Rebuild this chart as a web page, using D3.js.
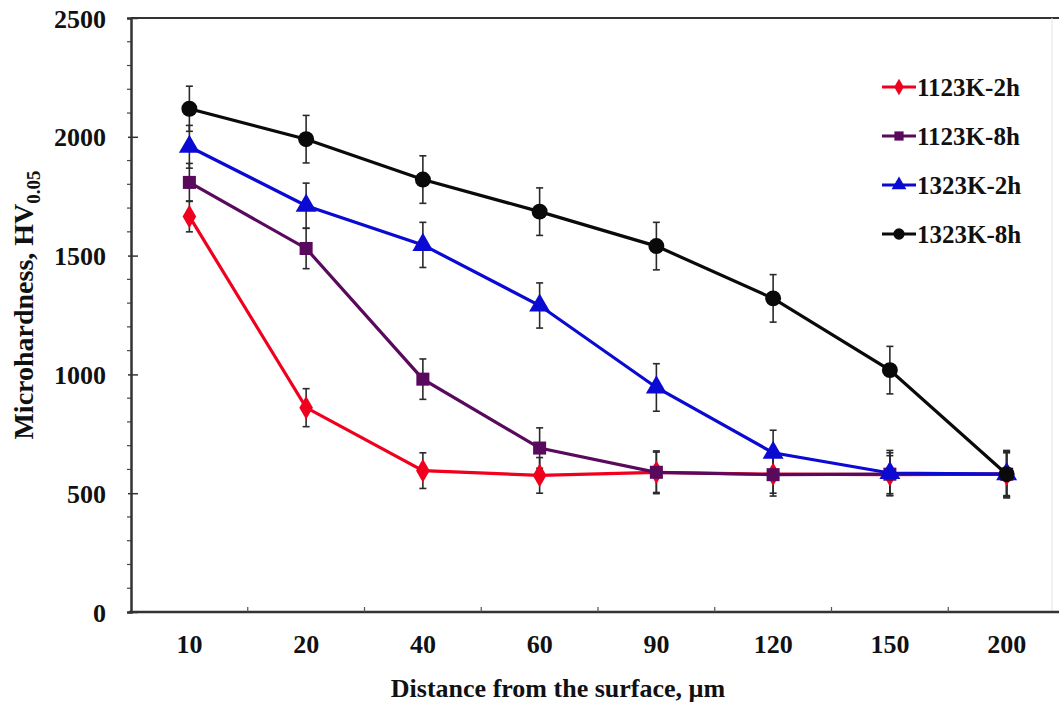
<!DOCTYPE html>
<html>
<head>
<meta charset="utf-8">
<script src="https://cdn.jsdelivr.net/npm/d3@7"></script>
<style>
  html, body { margin: 0; padding: 0; background: #fff; }
  svg text { font-family: "Liberation Serif", "Times New Roman", serif; font-weight: bold; fill: #111; }
</style>
</head>
<body>
<svg id="chart" width="1059" height="704"></svg>
<script>
// Sampling depths (µm) and microhardness readings for each treatment
const depths = ["10", "20", "40", "60", "90", "120", "150", "200"];
const yTicks = [0, 500, 1000, 1500, 2000, 2500];

const hv1123K2h = [1665, 860, 595, 575, 588, 580, 578, 580];
const hv1123K8h = [1808, 1530, 980, 690, 588, 578, 580, 580];
const hv1323K2h = [1958, 1710, 1545, 1290, 945, 670, 585, 580];
const hv1323K8h = [2118, 1990, 1820, 1685, 1540, 1320, 1018, 580];

const err1123K2h = [65, 80, 75, 75, 85, 80, 80, 90];
const err1123K8h = [80, 85, 85, 85, 90, 90, 90, 95];
const err1323K2h = [90, 95, 95, 95, 100, 95, 95, 95];
const err1323K8h = [95, 100, 100, 100, 100, 100, 100, 100];

const seriesNames = ["1123K-2h", "1123K-8h", "1323K-2h", "1323K-8h"];
const seriesColors = ["#f0001e", "#5a0a5c", "#0a0ad2", "#0a0a0a"];
const seriesShapes = [d3.symbolDiamond, d3.symbolSquare, d3.symbolTriangle, d3.symbolCircle];
const seriesSizes = [160, 170, 190, 200];

const series = seriesNames.map((name, i) => ({
  name,
  color: seriesColors[i],
  shape: seriesShapes[i],
  size: seriesSizes[i],
  values: [hv1123K2h, hv1123K8h, hv1323K2h, hv1323K8h][i],
  errors: [err1123K2h, err1123K8h, err1323K2h, err1323K8h][i]
}));

const svg = d3.select("#chart");
const plotL = 131, plotR = 1065, plotT = 18, plotB = 612;

const x = d3.scaleBand().domain(depths).range([plotL, plotR]).padding(0);
const y = d3.scaleLinear().domain([0, 2500]).range([plotB, plotT]);

// Frame: top border and faint right edge
svg.append("line").attr("x1", plotL).attr("x2", 1059).attr("y1", plotT).attr("y2", plotT)
  .attr("stroke", "#333").attr("stroke-width", 2);
svg.append("line").attr("x1", 1052).attr("x2", 1052).attr("y1", plotT).attr("y2", plotB)
  .attr("stroke", "#e4e4e4").attr("stroke-width", 1);

// Y axis with minor ticks
const yMinor = d3.range(0, 2501, 100).filter(v => v % 500 !== 0);
svg.append("g").selectAll("line").data(yMinor).join("line")
  .attr("x1", plotL - 4).attr("x2", plotL).attr("y1", d => y(d)).attr("y2", d => y(d))
  .attr("stroke", "#444").attr("stroke-width", 1.2);

const yAxis = svg.append("g").attr("transform", `translate(${plotL},0)`)
  .call(d3.axisLeft(y).tickValues(yTicks).tickFormat(d3.format("d")).tickSize(4).tickPadding(21));
yAxis.select(".domain").attr("stroke", "#333").attr("stroke-width", 2.5);
yAxis.selectAll(".tick line").attr("x1", 7).attr("x2", -3).attr("stroke", "#333").attr("stroke-width", 1.5);
yAxis.selectAll(".tick text").attr("font-size", 26).attr("dy", "0.35em")
  .style("font-family", "'Liberation Serif', serif").style("font-weight", "bold").attr("fill", "#111");

// X axis: category labels, ticks at band boundaries pointing inward
const xAxis = svg.append("g").attr("transform", `translate(0,${plotB})`)
  .call(d3.axisBottom(x).tickSize(0).tickPadding(23));
xAxis.select(".domain").remove();
xAxis.selectAll(".tick text").attr("font-size", 26)
  .style("font-family", "'Liberation Serif', serif").style("font-weight", "bold").attr("fill", "#111");
svg.append("line").attr("x1", plotL - 2).attr("x2", 1059).attr("y1", plotB).attr("y2", plotB)
  .attr("stroke", "#333").attr("stroke-width", 2.5);
svg.append("g").selectAll("line").data(depths.slice(1)).join("line")
  .attr("x1", d => x(d)).attr("x2", d => x(d)).attr("y1", plotB).attr("y2", plotB - 5)
  .attr("stroke", "#555").attr("stroke-width", 1.2);

// Axis titles
svg.append("text").attr("x", 558).attr("y", 697).attr("text-anchor", "middle")
  .attr("font-size", 26).text("Distance from the surface, µm");

const yTitle = svg.append("text").attr("transform", "translate(33,305) rotate(-90)")
  .attr("text-anchor", "middle").attr("font-size", 28);
yTitle.append("tspan").text("Microhardness, HV");
yTitle.append("tspan").attr("font-size", 19).attr("dy", 7).text("0.05");

// Series: error bars, lines, markers
const line = d3.line().x((d, i) => x.bandwidth() / 2 + x(depths[i])).y(d => y(d));
const cx = i => x(depths[i]) + x.bandwidth() / 2;

series.forEach(s => {
  const eb = svg.append("g");
  s.values.forEach((v, i) => {
    const e = s.errors[i];
    eb.append("line").attr("x1", cx(i)).attr("x2", cx(i)).attr("y1", y(v - e)).attr("y2", y(v + e))
      .attr("stroke", "#2a2a2a").attr("stroke-width", 1.6);
    [v - e, v + e].forEach(w => eb.append("line")
      .attr("x1", cx(i) - 3.5).attr("x2", cx(i) + 3.5).attr("y1", y(w)).attr("y2", y(w))
      .attr("stroke", "#2a2a2a").attr("stroke-width", 1.6));
  });
});

series.forEach(s => {
  svg.append("path").datum(s.values).attr("d", line)
    .attr("fill", "none").attr("stroke", s.color).attr("stroke-width", 3.2);
  svg.append("g").selectAll("path").data(s.values).join("path")
    .attr("transform", (d, i) => `translate(${cx(i)},${y(d)})`)
    .attr("d", d3.symbol().type(s.shape).size(s.size))
    .attr("fill", s.color);
});

// Legend
const legendY = [87, 136, 185, 234];
series.forEach((s, i) => {
  const g = svg.append("g").attr("transform", `translate(882,${legendY[i]})`);
  g.append("line").attr("x1", 0).attr("x2", 34).attr("stroke", s.color).attr("stroke-width", 3);
  g.append("path").attr("transform", "translate(17,0)")
    .attr("d", d3.symbol().type(s.shape).size(s.size * 0.5)).attr("fill", s.color);
  g.append("text").attr("x", 35).attr("dy", "0.35em").attr("font-size", 25).text(s.name);
});
</script>
</body>
</html>
